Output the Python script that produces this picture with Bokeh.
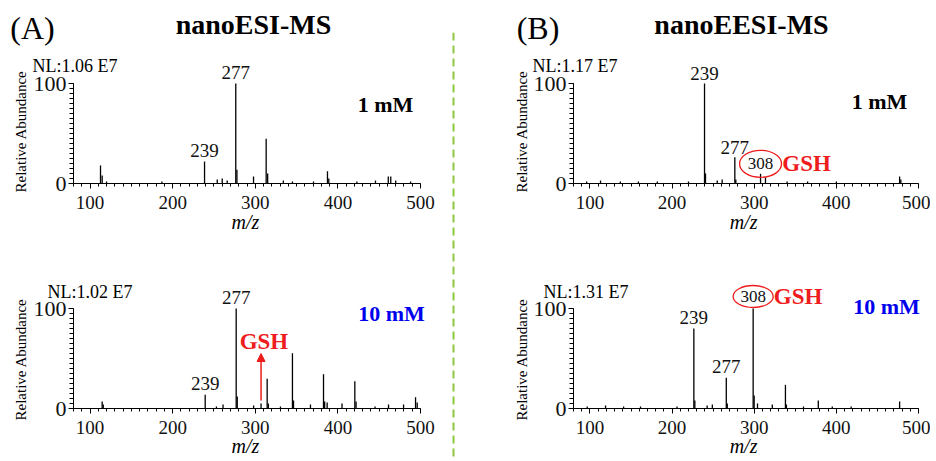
from bokeh.plotting import figure
from bokeh.layouts import row, column
from bokeh.models import (ColumnDataSource, FixedTicker, Label, LabelSet, Span,
                          Arrow, NormalHead)
from bokeh.core.properties import value
from bokeh.embed import file_html
from bokeh.resources import INLINE

SERIF = "Liberation Serif"
RED = "#ee1c1c"
BLUE = "#0000ee"
GREEN = "#8dc63f"

# ---------------- data ----------------
X_TICKS = [100, 200, 300, 400, 500]
Y_TICKS = [0, 100]

# (A) nanoESI-MS, 1 mM
esi1_mz = [112.7, 114.7, 120, 187, 238.6, 254, 260, 266, 276.4, 277.8, 297.9, 313.2, 315,
           334, 345, 370.5, 387.4, 389, 423, 445.5, 461, 464, 470, 488]
esi1_int = [18, 8, 2, 2, 22, 4, 5, 3, 100, 13.7, 7, 44.7, 10,
            3, 2, 2, 12.3, 5, 2, 3, 7, 7, 3, 2]
esi1_lab_mz = [238.6, 276.4]
esi1_lab_txt = ["239", "277"]

# (A) nanoESI-MS, 10 mM
esi10_mz = [114.7, 116, 239.4, 253, 261, 276.9, 278.2, 298, 307, 314.4, 315.8, 330.5, 345,
            346.3, 366.8, 382.6, 384, 387, 405, 420.5, 422, 445, 461.3, 479.5, 494, 496]
esi10_int = [7, 4, 13.7, 2, 4, 100, 12, 3, 5, 29.7, 5, 2, 55.3,
             8, 4, 34.3, 7, 6, 5, 27.3, 7, 2, 4, 4, 11.3, 6]
esi10_lab_mz = [239.4, 276.9]
esi10_lab_txt = ["239", "277"]
esi10_gsh_mz = 307

# (B) nanoEESI-MS, 1 mM
eesi1_mz = [96, 112.9, 137, 159, 182, 220, 239.5, 240.7, 255, 261, 276.4, 277.6, 307.7,
            313.7, 340, 365, 400, 477, 478.5]
eesi1_int = [2, 3, 2, 2, 2, 2, 100, 10, 3, 4, 26.3, 4, 9.7,
             6, 2, 2, 2, 7, 4]
eesi1_lab_mz = [239.5, 276.4]
eesi1_lab_txt = ["239", "277"]
eesi1_gsh_mz = 307.7

# (B) nanoEESI-MS, 10 mM
eesi10_mz = [96.7, 119, 141, 161.6, 206, 226.5, 227.7, 242.7, 249, 266, 267.2, 298.7, 299.9,
             304, 322, 338, 339.2, 360, 378, 395, 418, 477]
eesi10_int = [2, 3, 2, 2, 2, 80, 8, 3, 4, 30.7, 5, 100, 13,
              5, 4, 23.7, 4, 2, 8, 2, 2, 7]
eesi10_lab_mz = [226.5, 266]
eesi10_lab_txt = ["239", "277"]
eesi10_gsh_mz = 298.7


def base(w, h, xr, yr):
    p = figure(width=w, height=h, x_range=xr, y_range=yr,
               min_border_left=0, min_border_right=0, min_border_top=0,
               min_border_bottom=0, output_backend="svg", toolbar_location=None,
               outline_line_color=None, background_fill_color="white",
               border_fill_color="white")
    p.grid.visible = False
    xa = p.xaxis[0]
    ya = p.yaxis[0]
    xa.fixed_location = 0
    ya.fixed_location = 80
    xa.ticker = FixedTicker(ticks=X_TICKS, minor_ticks=list(range(80, 501, 10)))
    ya.ticker = FixedTicker(ticks=Y_TICKS, minor_ticks=list(range(0, 101, 5)))
    xa.bounds = (80, 500)
    ya.bounds = (0, 100)
    for a in (xa, ya):
        a.major_tick_in = 0
        a.minor_tick_in = 0
        a.axis_line_color = "black"
        a.major_tick_line_color = "black"
        a.minor_tick_line_color = "black"
        a.major_label_text_font = SERIF
        a.major_label_text_color = "#111111"
    xa.major_tick_out = 5
    xa.minor_tick_out = 3
    ya.major_tick_out = 5
    ya.minor_tick_out = 4
    xa.major_label_text_font_size = "19px"
    ya.major_label_text_font_size = "22px"
    xa.major_label_standoff = 7
    ya.major_label_standoff = 2
    return p


def txt(p, x, y, s, size, color="black", bold=False, italic=False, align="center",
        angle=0.0, x_offset=0, y_offset=0):
    style = "bold" if bold else ("italic" if italic else "normal")
    p.add_layout(Label(x=x, y=y, text=s, text_font=SERIF, text_font_size=size,
                       text_color=color, text_font_style=style, text_align=align,
                       text_baseline="middle", angle=angle, x_offset=x_offset,
                       y_offset=y_offset))


def peaks(p, mz, inten, lab_mz, lab_txt, offset):
    src = ColumnDataSource(dict(mz=mz, y0=[0] * len(mz), inten=inten))
    p.segment(x0="mz", y0="y0", x1="mz", y1="inten", source=src,
              line_color="black", line_width=1.3)
    lookup = dict(zip(mz, inten))
    lsrc = ColumnDataSource(dict(mz=lab_mz, inten=[lookup[m] for m in lab_mz], txt=lab_txt))
    p.add_layout(LabelSet(x="mz", y="inten", text="txt", source=lsrc, y_offset=offset,
                          text_align="center", text_baseline="middle",
                          text_font=value(SERIF), text_font_size=value("19px"),
                          text_color="#111111"))
    return lookup


def gsh_circle(p, mz, lookup, yoff, w, h):
    y = lookup[mz] + yoff
    src = ColumnDataSource(dict(x=[mz], y=[y], t=["308"]))
    p.ellipse(x="x", y="y", width=w, height=h, width_units="screen", height_units="screen",
              source=src, fill_color=None, line_color=RED, line_width=1.3)
    p.add_layout(LabelSet(x="x", y="y", text="t", source=src, text_align="center",
                          text_baseline="middle", text_font=value(SERIF),
                          text_font_size=value("17px"), text_color="#111111"))
    txt(p, mz, y, "GSH", "23px", color=RED, bold=True, x_offset=w / 2 + 25)


LEFT_X = (-8.36, 524.2)
RIGHT_X = (-45.4, 514.6)
TOP_Y = (-51, 183)
BOT_Y = (-51, 174)

# ---------------- (A) top ----------------
a1 = base(440, 234, LEFT_X, TOP_Y)
peaks(a1, esi1_mz, esi1_int, esi1_lab_mz, esi1_lab_txt, 11)
txt(a1, 30.4, 156, "(A)", "32px")
txt(a1, 297.9, 159, "nanoESI-MS", "28px", bold=True)
txt(a1, 30.4, 118, "NL:1.06 E7", "18px", align="left")
txt(a1, 17, 52, "Relative Abundance", "15px", angle=1.5708)
txt(a1, 457.6, 79, "1 mM", "22px", bold=True)
txt(a1, 288, -38, "m/z", "20px", italic=True)

# ---------------- (A) bottom ----------------
a2 = base(440, 225, LEFT_X, BOT_Y)
lk = peaks(a2, esi10_mz, esi10_int, esi10_lab_mz, esi10_lab_txt, 11)
txt(a2, 48.5, 117, "NL:1.02 E7", "18px", align="left")
txt(a2, 17, 49, "Relative Abundance", "15px", angle=1.5708)
txt(a2, 464.9, 95, "10 mM", "22px", color=BLUE, bold=True)
txt(a2, 288, -37, "m/z", "20px", italic=True)
txt(a2, esi10_gsh_mz + 3.5, 67, "GSH", "23px", color=RED, bold=True)
a2.add_layout(Arrow(end=NormalHead(size=8, fill_color=RED, line_color=RED, line_width=1),
                    x_start=esi10_gsh_mz, y_start=lk[esi10_gsh_mz] + 3,
                    x_end=esi10_gsh_mz, y_end=55, line_color=RED, line_width=1.5))

# ---------------- divider ----------------
dv = figure(width=30, height=459, x_range=(0, 30), y_range=(0, 427),
            min_border_left=0, min_border_right=0, min_border_top=32, min_border_bottom=0,
            x_axis_type=None, y_axis_type=None, outline_line_color=None,
            toolbar_location=None, output_backend="svg")
dv.grid.visible = False
dv.add_layout(Span(location=13, dimension="height", line_color=GREEN, line_width=2,
                   line_dash="8 5"))

# ---------------- (B) top ----------------
b1 = base(460, 234, RIGHT_X, TOP_Y)
lk = peaks(b1, eesi1_mz, eesi1_int, eesi1_lab_mz, eesi1_lab_txt, 10)
txt(b1, 36.8, 156, "(B)", "32px")
txt(b1, 284.5, 159, "nanoEESI-MS", "28px", bold=True)
txt(b1, 30.1, 118, "NL:1.17 E7", "18px", align="left")
txt(b1, 16.7, 52, "Relative Abundance", "15px", angle=1.5708)
txt(b1, 452.5, 82, "1 mM", "22px", bold=True)
txt(b1, 287, -38, "m/z", "20px", italic=True)
gsh_circle(b1, eesi1_gsh_mz, lk, 10, 42, 27)

# ---------------- (B) bottom ----------------
b2 = base(460, 225, RIGHT_X, BOT_Y)
lk = peaks(b2, eesi10_mz, eesi10_int, eesi10_lab_mz, eesi10_lab_txt, 11)
txt(b2, 43.5, 117, "NL:1.31 E7", "18px", align="left")
txt(b2, 16.7, 49, "Relative Abundance", "15px", angle=1.5708)
txt(b2, 461, 102, "10 mM", "22px", color=BLUE, bold=True)
txt(b2, 287, -37, "m/z", "20px", italic=True)
gsh_circle(b2, eesi10_gsh_mz, lk, 12, 40, 22)

layout = row(column(a1, a2), dv, column(b1, b2))
open("out.html", "w").write(file_html(layout, INLINE))
